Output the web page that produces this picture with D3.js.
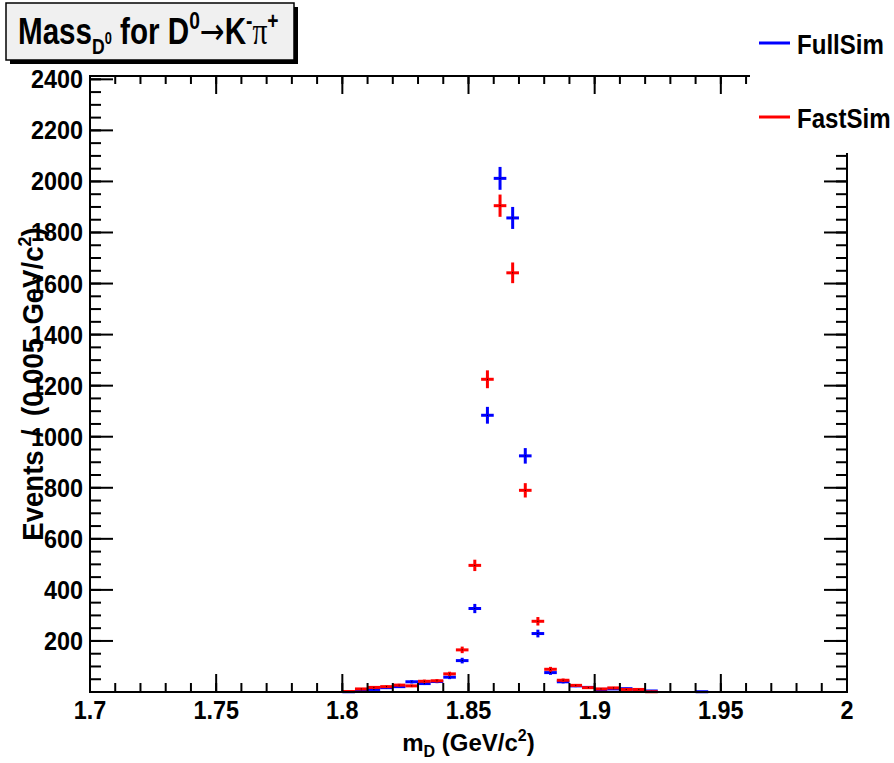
<!DOCTYPE html>
<html>
<head>
<meta charset="utf-8">
<script src="https://cdn.jsdelivr.net/npm/d3@7"></script>
<style>
  body { margin: 0; background: #fff; }
  svg { display: block; }
  text { font-family: "Liberation Sans", Arial, sans-serif; font-weight: bold; fill: #000; }
</style>
</head>
<body>
<svg id="chart"></svg>
<script>
// bin low edges (GeV/c^2), width 0.005
const binEdges = [1.800, 1.805, 1.810, 1.815, 1.820, 1.825, 1.830, 1.835, 1.840, 1.845,
                  1.850, 1.855, 1.860, 1.865, 1.870, 1.875, 1.880, 1.885, 1.890, 1.895,
                  1.900, 1.905, 1.910, 1.915, 1.920, 1.940];
const fullSim = [1, 4, 10, 17, 21, 40, 33, 41, 58, 123,
                 327, 1084, 2012, 1857, 925, 229, 76, 40, 24, 18,
                 10, 12, 13, 7, 4, 1];
const fastSim = [2, 12, 18, 21, 27, 24, 42, 44, 71, 165,
                 496, 1225, 1905, 1642, 790, 277, 89, 46, 26, 17,
                 12, 16, 10, 10, 1, 0];
const binWidth = 0.005;
const xMajor = [1.7, 1.75, 1.8, 1.85, 1.9, 1.95, 2.0];
const xLabels = ["1.7", "1.75", "1.8", "1.85", "1.9", "1.95", "2"];
const yMajor = [200, 400, 600, 800, 1000, 1200, 1400, 1600, 1800, 2000, 2200, 2400];
const seriesNames = ["FullSim", "FastSim"];
const seriesColors = ["#0000ff", "#ff0000"];

const W = 894, H = 763;
const svg = d3.select("#chart").attr("width", W).attr("height", H);

const x = d3.scaleLinear().domain([1.7, 2.0]).range([90, 847]);
const y = d3.scaleLinear().domain([0, 2413]).range([692, 76]);

// condensed text helper (ROOT text looks narrow)
function label(parent, px, py, str, size, sx, anchor) {
	const g = parent.append("g").attr("transform", `translate(${px},${py}) scale(${sx},1)`);
	return g.append("text")
		.attr("text-anchor", anchor || "start")
		.style("font-size", size + "px")
		.text(str);
}

// data: error crosses
const plot = svg.append("g");
[fullSim, fastSim].forEach((vals, si) => {
	const pts = binEdges.map((e, i) => ({e: e, v: vals[i]})).filter(d => d.v > 0);
	const g = plot.append("g").attr("stroke", seriesColors[si]).attr("stroke-width", 3);
	g.selectAll(".h").data(pts).enter().append("line")
		.attr("x1", d => x(d.e)).attr("x2", d => x(d.e + binWidth))
		.attr("y1", d => y(d.v)).attr("y2", d => y(d.v));
	g.selectAll(".v").data(pts.filter(d => d.v > 4)).enter().append("line")
		.attr("x1", d => x(d.e + binWidth / 2)).attr("x2", d => x(d.e + binWidth / 2))
		.attr("y1", d => y(d.v - Math.sqrt(d.v))).attr("y2", d => y(d.v + Math.sqrt(d.v)));
	plot.append("g").selectAll("rect").data(pts).enter().append("rect")
		.attr("x", d => x(d.e + binWidth / 2) - 0.5).attr("y", d => y(d.v) - 0.5)
		.attr("width", 1).attr("height", 1).attr("fill", "#000");
});

// frame + ticks
const axes = svg.append("g").attr("stroke", "#000").attr("stroke-width", 2).attr("fill", "none");
axes.append("rect").attr("x", x(1.7)).attr("y", y(2413))
	.attr("width", x(2.0) - x(1.7)).attr("height", y(0) - y(2413));
const xMinor = d3.range(0, 31).map(i => 1.7 + i * 0.01);
const yMinor = d3.range(0, 2401, 50);
axes.selectAll(".xb").data(xMinor).enter().append("line")
	.attr("x1", d => x(d)).attr("x2", d => x(d)).attr("y1", y(0)).attr("y2", y(0) - 9);
axes.selectAll(".xt").data(xMinor).enter().append("line")
	.attr("x1", d => x(d)).attr("x2", d => x(d)).attr("y1", y(2413)).attr("y2", y(2413) + 8);
axes.selectAll(".xbM").data(xMajor).enter().append("line")
	.attr("x1", d => x(d)).attr("x2", d => x(d)).attr("y1", y(0)).attr("y2", y(0) - 18);
axes.selectAll(".xtM").data(xMajor).enter().append("line")
	.attr("x1", d => x(d)).attr("x2", d => x(d)).attr("y1", y(2413)).attr("y2", y(2413) + 18);
axes.selectAll(".yl").data(yMinor).enter().append("line")
	.attr("x1", x(1.7)).attr("x2", x(1.7) + 11).attr("y1", d => y(d)).attr("y2", d => y(d));
axes.selectAll(".yr").data(yMinor).enter().append("line")
	.attr("x1", x(2.0)).attr("x2", x(2.0) - 11).attr("y1", d => y(d)).attr("y2", d => y(d));
axes.selectAll(".ylM").data(yMajor).enter().append("line")
	.attr("x1", x(1.7)).attr("x2", x(1.7) + 23).attr("y1", d => y(d)).attr("y2", d => y(d));
axes.selectAll(".yrM").data(yMajor).enter().append("line")
	.attr("x1", x(2.0)).attr("x2", x(2.0) - 23).attr("y1", d => y(d)).attr("y2", d => y(d));

// tick labels
yMajor.forEach(v => label(svg, 83, y(v) + 9, String(v), 26, 0.9, "end"));
xMajor.forEach((v, i) => label(svg, x(v), 719, xLabels[i], 26, 0.9, "middle"));

// axis titles
const xt = svg.append("text").attr("x", (x(1.7) + x(2.0)) / 2).attr("y", 751)
	.attr("text-anchor", "middle").style("font-size", "24px");
xt.append("tspan").text("m");
xt.append("tspan").text("D").style("font-size", "16px").attr("dy", 6);
xt.append("tspan").text(" (GeV/c").attr("dy", -6);
xt.append("tspan").text("2").style("font-size", "16px").attr("dy", -10);
xt.append("tspan").text(")").attr("dy", 10);

const ytg = svg.append("g").attr("transform", `translate(43,${(y(0) + y(2413)) / 2}) rotate(-90) scale(0.95,1)`);
const yt = ytg.append("text").attr("text-anchor", "middle").style("font-size", "29px").style("word-spacing", "6px");
yt.append("tspan").text("Events / (0.005 GeV/c");
yt.append("tspan").text("2").style("font-size", "19px").attr("dy", -12);
yt.append("tspan").text(")").attr("dy", 12);

// legend (white box hides part of the frame)
const leg = svg.append("g");
leg.append("rect").attr("x", 750).attr("y", 10).attr("width", 144).attr("height", 143).attr("fill", "#fff");
seriesNames.forEach((n, i) => {
	const ly = 43 + i * 74;
	leg.append("line").attr("x1", 759).attr("x2", 790).attr("y1", ly).attr("y2", ly)
		.attr("stroke", seriesColors[i]).attr("stroke-width", 3);
	label(leg, 797, ly + 11, n, 28, 0.86, "start");
});

// title box with shadow
const tb = svg.append("g");
tb.append("rect").attr("x", 10).attr("y", 7).attr("width", 288).attr("height", 57).attr("fill", "#000");
tb.append("rect").attr("x", 6).attr("y", 3).attr("width", 288).attr("height", 57)
	.attr("fill", "#f0f0f0").attr("stroke", "#000").attr("stroke-width", 1.5);
const tg = tb.append("g").attr("transform", "translate(18,44) scale(0.8,1)");
const tt = tg.append("text").style("font-size", "37px");
tt.append("tspan").text("Mass");
tt.append("tspan").text("D").style("font-size", "22px").attr("dy", 10);
tt.append("tspan").text("0").style("font-size", "16px").attr("dy", -10);
tt.append("tspan").text(" for D").attr("dy", 0);
tt.append("tspan").text("0").style("font-size", "24px").attr("dy", -15);
tt.append("tspan").text("\u2192").style("font-weight", "normal").style("font-family", "DejaVu Sans").attr("dy", 15);
tt.append("tspan").text("K");
tt.append("tspan").text("-").style("font-size", "24px").attr("dy", -15);
tt.append("tspan").text("\u03c0").style("font-weight", "normal").style("font-family", "Liberation Serif").attr("dy", 15);
tt.append("tspan").text("+").style("font-size", "24px").attr("dy", -15);
</script>
</body>
</html>
